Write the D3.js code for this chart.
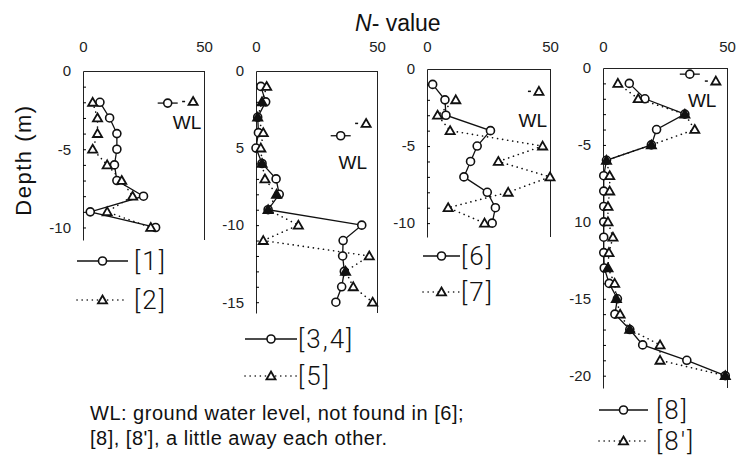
<!DOCTYPE html>
<html>
<head>
<meta charset="utf-8">
<script src="https://cdn.jsdelivr.net/npm/d3@7"></script>
<style>
  body { margin: 0; background: #fff; }
  svg text { font-family: "Liberation Sans", Arial, sans-serif; fill: #111; }
  .axis text { font-size: 15px; fill: #222; }
  .axis path { stroke: #222; }
  .legend text { font-family: Roboto, "Liberation Sans", sans-serif; font-weight: 300; font-size: 26px; letter-spacing: 2px; }
  .note { font-size: 20px; letter-spacing: 0.5px; }
</style>
</head>
<body>
<svg id="chart" width="737" height="462"></svg>
<script>
// depth of each reading (m)
const depths1 = [2, 3, 4, 5, 6, 7, 8, 9, 10];
const depths2 = [1, 2, 3, 4, 5, 6, 7, 8, 9, 10, 11, 12, 13, 14, 15];
const depths3 = [1, 2, 3, 4, 5, 6, 7, 8, 9, 10];
const depths3t = [2, 3, 4, 5, 6, 7, 8, 9, 10];
const depths4 = [1, 2, 3, 4, 5, 6, 7, 8, 9, 10, 11, 12, 13, 14, 15, 16, 17, 18, 19, 20];

// N-values
const n1 = [7, 11, 14, 14, 13, 14, 25, 3, 30];
const n2 = [4, 6, 6, 4, 10, 16, 20.5, 10, 28];
const n34 = [2, 4, 0.7, 1, 0, 2.5, 8.3, 9.6, 5, 43.7, 36, 35.8, 36.5, 35.4, 33];
const n5 = [4.4, 2.5, 0.7, 3, 2, 2.5, 3.7, 8.5, 5, 17.5, 3, 46.8, 37, 40.2, 48.2];
const n6 = [2.3, 7.3, 7.7, 25.8, 20.4, 17.7, 15, 24.5, 27.8, 26.5];
const n7 = [11.7, 4.3, 9.4, 47, 29, 50, 33, 8.6, 23.4];
const n8 = [10.6, 16.9, 33, 21.6, 19.5, 1.4, 0.3, 0.3, 0.3, 0.3, 0.3, 0.3, 0.5, 2.5, 5.8, 4.8, 10.8, 16, 33.8, 49.3];
const n8p = [6, 14.2, 33, 37, 19.5, 1.4, 2.7, 2.7, 2, 2, 4, 2.4, 2, 4.7, 5.4, 6.9, 10.8, 23, 23, 49.3];

// ground water level depth (m); [6] has none
const wl1 = 2.05, wl2 = 1.95, wl34 = 4.2, wl5 = 3.4, wl7 = 1.45, wl8 = 0.4, wl8p = 0.85;

const tickLabels1 = ["0", "-5", "-10"];
const tickLabels2 = ["0", "5", "-10", "-15"];
const tickLabels3 = ["0", "-5", "-10"];
const tickLabels4 = ["0", "-5", "10", "-15", "-20"];

const zip = (ds, ns) => ds.map((d, i) => ({ d, n: ns[i] }));

const panels = [
  { xr: [83, 204], yr: [71, 240], maxD: 10.8, ticks: [0, 5, 10], labels: tickLabels1,
    circ: { name: "[1]", pts: zip(depths1, n1), wl: wl1 },
    tri: { name: "[2]", pts: zip(depths1, n2), wl: wl2 },
    wlLabel: [43, 3.3], leg: { x: 77, w: 51, tx: 134, y: [261, 300] } },
  { xr: [256, 377], yr: [71, 313], maxD: 15.7, ticks: [0, 5, 10, 15], labels: tickLabels2,
    circ: { name: "[3,4]", pts: zip(depths2, n34), wl: wl34 },
    tri: { name: "[5]", pts: zip(depths2, n5), wl: wl5 },
    wlLabel: [40, 5.9], leg: { x: 245, w: 52, tx: 298, y: [339, 376] } },
  { xr: [427, 550], yr: [69, 237], maxD: 10.9, ticks: [0, 5, 10], labels: tickLabels3,
    circ: { name: "[6]", pts: zip(depths3, n6), wl: null },
    tri: { name: "[7]", pts: zip(depths3t, n7), wl: wl7 },
    wlLabel: [43, 3.3], leg: { x: 423, w: 37, tx: 461, y: [256, 292] } },
  { xr: [603, 727], yr: [68, 388], maxD: 20.8, ticks: [0, 5, 10, 15, 20], labels: tickLabels4,
    circ: { name: "[8]", pts: zip(depths4, n8), wl: wl8 },
    tri: { name: "[8']", pts: zip(depths4, n8p), wl: wl8p },
    wlLabel: [40, 2.1], leg: { x: 599, w: 49, tx: 656, y: [410, 441] } }
];

const svg = d3.select("#chart");
const tri = d3.symbol(d3.symbolTriangle, 36);

function drawCircle(g, cx, cy) {
  g.append("circle").attr("cx", cx).attr("cy", cy).attr("r", 4)
    .attr("fill", "#fff").attr("stroke", "#111").attr("stroke-width", 1.6);
}
function drawTri(g, cx, cy, filled) {
  g.append("path").attr("d", tri).attr("transform", `translate(${cx},${cy + 0.8})`)
    .attr("fill", filled ? "#111" : "#fff").attr("stroke", "#111").attr("stroke-width", 1.8);
}

panels.forEach((p) => {
  const x = d3.scaleLinear().domain([0, 50]).range(p.xr);
  const y = d3.scaleLinear().domain([0, p.maxD]).range(p.yr);
  const g = svg.append("g");

  // frame: left depth axis, top N axis, right edge
  g.append("g").attr("class", "axis")
    .attr("transform", `translate(${p.xr[0]},0)`)
    .call(d3.axisLeft(y).tickValues(p.ticks).tickFormat((d, i) => p.labels[i])
      .tickSize(0).tickPadding(12));
  g.append("g").attr("class", "axis")
    .attr("transform", `translate(${p.xr[0]},0)`)
    .call(d3.axisLeft(y).tickValues(d3.range(1, p.maxD, 1)).tickFormat("").tickSize(-3))
    .call((a) => a.select(".domain").remove());
  g.append("g").attr("class", "axis")
    .attr("transform", `translate(0,${p.yr[0]})`)
    .call(d3.axisTop(x).tickValues([0, 50]).tickSize(0).tickPadding(p.yr[0] - 52));
  g.append("line").attr("x1", p.xr[1] + 0.5).attr("x2", p.xr[1] + 0.5)
    .attr("y1", p.yr[0]).attr("y2", p.yr[1]).attr("stroke", "#222");

  const line = d3.line().x((d) => x(d.n)).y((d) => y(d.d));
  g.append("path").datum(p.tri.pts).attr("d", line).attr("fill", "none")
    .attr("stroke", "#111").attr("stroke-width", 1.6)
    .attr("stroke-dasharray", "0.1,5").attr("stroke-linecap", "round");
  g.append("path").datum(p.circ.pts).attr("d", line).attr("fill", "none")
    .attr("stroke", "#111").attr("stroke-width", 1.3);

  p.circ.pts.forEach((d) => drawCircle(g, x(d.n), y(d.d)));
  p.tri.pts.forEach((d) => {
    const c = p.circ.pts.find((e) => e.d === d.d);
    drawTri(g, x(d.n), y(d.d), c && Math.abs(c.n - d.n) < 1.6);
  });

  // ground water level marks
  if (p.circ.wl != null) {
    const cx = x(35), cy = y(p.circ.wl);
    g.append("line").attr("x1", cx - 10).attr("x2", cx + 10).attr("y1", cy).attr("y2", cy)
      .attr("stroke", "#111").attr("stroke-width", 1.3);
    drawCircle(g, cx, cy);
  }
  if (p.tri.wl != null) {
    const cx = x(45.5), cy = y(p.tri.wl);
    g.append("line").attr("x1", cx - 11).attr("x2", cx - 8).attr("y1", cy).attr("y2", cy)
      .attr("stroke", "#111").attr("stroke-width", 1.5);
    drawTri(g, cx, cy, false);
  }
  g.append("text").attr("x", x(p.wlLabel[0])).attr("y", y(p.wlLabel[1]))
    .attr("dy", "0.36em").attr("text-anchor", "middle")
    .style("font-size", "19px").text("WL");

  // legend
  const lg = g.append("g").attr("class", "legend");
  const [r1, r2] = p.leg.y;
  lg.append("line").attr("x1", p.leg.x).attr("x2", p.leg.x + p.leg.w).attr("y1", r1).attr("y2", r1)
    .attr("stroke", "#111").attr("stroke-width", 1.3);
  drawCircle(lg, p.leg.x + p.leg.w / 2, r1);
  lg.append("line").attr("x1", p.leg.x).attr("x2", p.leg.x + p.leg.w).attr("y1", r2).attr("y2", r2)
    .attr("stroke", "#111").attr("stroke-width", 1.6)
    .attr("stroke-dasharray", "0.1,5").attr("stroke-linecap", "round");
  drawTri(lg, p.leg.x + p.leg.w / 2, r2, false);
  lg.append("text").attr("x", p.leg.tx).attr("y", r1 + 9).text(p.circ.name);
  lg.append("text").attr("x", p.leg.tx).attr("y", r2 + 9).text(p.tri.name);
});

// titles and note
const title = svg.append("text").attr("x", 355).attr("y", 31).style("font-size", "23px");
title.append("tspan").style("font-style", "italic").text("N");
title.append("tspan").text("-  value");

svg.append("text").attr("transform", "translate(31,160) rotate(-90)")
  .attr("text-anchor", "middle").style("font-size", "22px").style("letter-spacing", "1.5px")
  .text("Depth (m)");

svg.append("text").attr("class", "note").attr("x", 90).attr("y", 420)
  .text("WL: ground water level, not found in [6];");
svg.append("text").attr("class", "note").attr("x", 90).attr("y", 445)
  .text("[8], [8'], a little away each other.");
</script>
</body>
</html>
